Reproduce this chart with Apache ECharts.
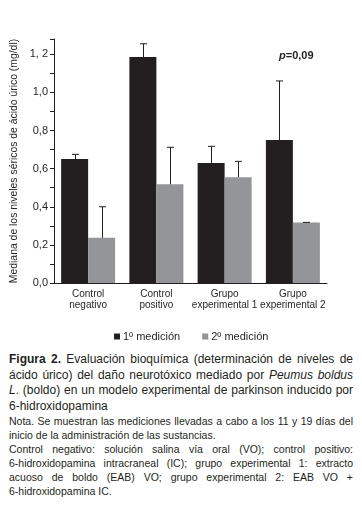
<!DOCTYPE html>
<html>
<head>
<meta charset="utf-8">
<script src="https://cdn.jsdelivr.net/npm/echarts@6/dist/echarts.min.js"></script>
<style>
  html, body { margin: 0; padding: 0; background: #fff; }
  body { width: 362px; height: 507px; overflow: hidden; font-family: "Liberation Sans", Arial, sans-serif; color: #231f20; }
  #chart { width: 362px; height: 345px; }
  .caption { margin: 0 9px 0 9px; text-align: justify; }
  .fig { font-size: 12px; line-height: 15.6px; margin-top: 7px; }
  .nota { font-size: 10.5px; line-height: 13.9px; margin-top: 1px; }
  .nota p { margin: 0; }
  .nw { white-space: nowrap; }
</style>
</head>
<body>
<div id="chart"></div>
<div class="caption fig"><b>Figura 2.</b> Evaluación bioquímica (determinación de niveles de ácido úrico) del daño neurotóxico mediado por <i>Peumus boldus</i> <i>L</i>. (boldo) en un modelo experimental de parkinson inducido por <span class="nw">6-hidroxidopamina</span></div>
<div class="caption nota">
  <p>Nota. Se muestran las mediciones llevadas a cabo a los 11 y 19 días del inicio de la administración de las sustancias.</p>
  <p>Control negativo: solución salina vía oral (VO); control positivo: <span class="nw">6-hidroxidopamina</span> intracraneal (IC); grupo experimental 1: extracto acuoso de boldo (EAB) VO; grupo experimental 2: EAB VO + <span class="nw">6-hidroxidopamina</span> IC.</p>
</div>
<script>
const groups = ['Control\nnegativo', 'Control\npositivo', 'Grupo\nexperimental 1', 'Grupo\nexperimental 2'];
const seriesNames = ['1º medición', '2º medición'];
const medicion1 = [0.65, 1.185, 0.63, 0.75];
const medicion2 = [0.237, 0.518, 0.555, 0.318];
const upper1 = [0.675, 1.255, 0.717, 1.06];
const upper2 = [0.40, 0.712, 0.638, 0.318];
const yTicks = { '0': '0,0', '0.2': '0,2', '0.4': '0,4', '0.6': '0,6', '0.8': '0,8', '1': '1,0', '1.2': '1, 2' };

const barW = 27;
const ink = '#231f20';

const chart = echarts.init(document.getElementById('chart'));

function errorSeries(values, upper, side) {
  return {
    type: 'custom',
    z: 5,
    silent: true,
    data: values.map((v, i) => [i, v, upper[i]]),
    renderItem: function (params, api) {
      const base = api.coord([api.value(0), api.value(1)]);
      const top = api.coord([api.value(0), api.value(2)]);
      const x = Math.round(base[0] + side * barW / 2) + 0.5;
      const style = { stroke: ink, lineWidth: 1 };
      return {
        type: 'group',
        children: [
          { type: 'line', shape: { x1: x, y1: base[1], x2: x, y2: top[1] }, style: style },
          { type: 'line', shape: { x1: x - 3.5, y1: top[1], x2: x + 3.5, y2: top[1] }, style: style }
        ]
      };
    }
  };
}

chart.setOption({
  animation: false,
  textStyle: { fontFamily: 'Liberation Sans, Arial, sans-serif', color: ink },
  grid: { left: 54, right: 35, top: 39, bottom: 62 },
  legend: {
    data: seriesNames,
    left: 109,
    top: 326,
    icon: 'rect',
    itemWidth: 6,
    itemHeight: 6,
    itemGap: 22,
    textStyle: { fontSize: 11, color: ink, padding: [0, 0, 0, -2] }
  },
  xAxis: {
    type: 'category',
    data: groups,
    axisLine: { lineStyle: { color: ink, width: 1 } },
    axisTick: { alignWithLabel: true, length: 3, lineStyle: { color: ink } },
    axisLabel: { fontSize: 10, lineHeight: 11, color: ink, margin: 6, interval: 0, hideOverlap: false }
  },
  yAxis: {
    type: 'value',
    min: 0,
    max: 1.28,
    interval: 0.2,
    name: 'Mediana de los niveles séricos de ácido úrico (mg/dl)',
    nameLocation: 'middle',
    nameGap: 34,
    nameTextStyle: { fontSize: 10.4, color: ink },
    axisLine: { show: true, lineStyle: { color: ink, width: 1 } },
    axisTick: { show: true, length: 4, lineStyle: { color: ink } },
    minorTick: { show: true, splitNumber: 2, length: 4, lineStyle: { color: ink } },
    splitLine: { show: false },
    axisLabel: {
      fontSize: 11,
      color: ink,
      margin: 6,
      formatter: v => yTicks[String(Math.round(v * 10) / 10)] || ''
    }
  },
  graphic: [{
    type: 'text',
    left: 279,
    top: 50,
    style: {
      text: '{i|p}{b|=0,09}',
      rich: {
        i: { fontStyle: 'italic', fontWeight: 'bold', fontSize: 11, fill: ink, fontFamily: 'Liberation Sans' },
        b: { fontWeight: 'bold', fontSize: 11, fill: ink, fontFamily: 'Liberation Sans' }
      }
    }
  }],
  series: [
    { name: seriesNames[0], type: 'bar', data: medicion1, barWidth: barW, barGap: '0%', itemStyle: { color: ink } },
    { name: seriesNames[1], type: 'bar', data: medicion2, barWidth: barW, barGap: '0%', itemStyle: { color: '#939598' } },
    errorSeries(medicion1, upper1, -1),
    errorSeries(medicion2, upper2, 1)
  ]
});
</script>
</body>
</html>
